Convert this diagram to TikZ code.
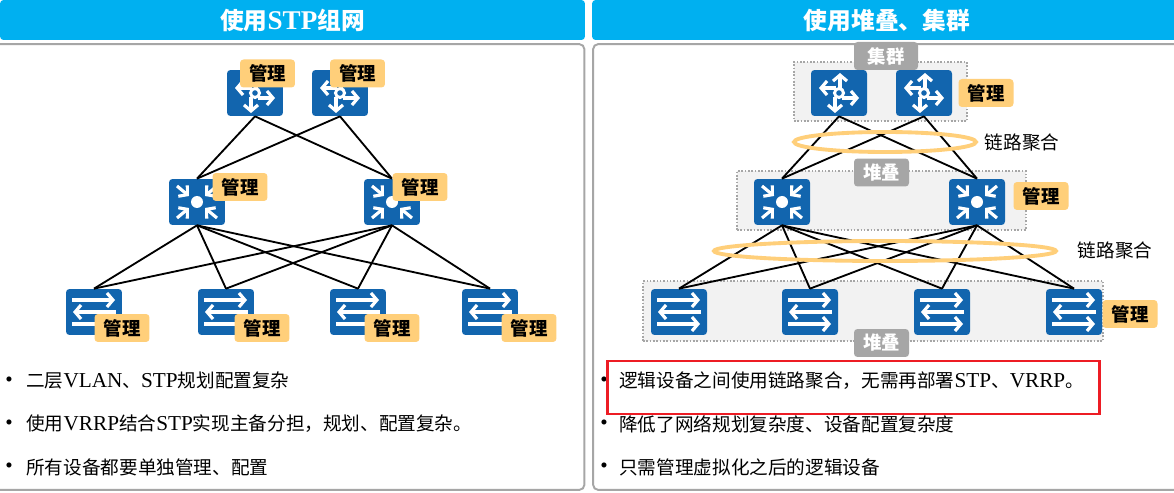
\documentclass[tikz,border=0pt]{standalone}
\usepackage{fontspec}
\setmainfont[Scale=1.14]{Liberation Serif}
\newfontfamily\cjk{Noto Sans CJK SC}
\usetikzlibrary{arrows.meta}
\definecolor{devblue}{HTML}{1265AE}
\definecolor{headblue}{HTML}{00B0F0}
\definecolor{badge}{HTML}{FFCF7A}
\definecolor{tagrey}{HTML}{A6A6A6}
\definecolor{groupgrey}{HTML}{F2F2F2}
\definecolor{markred}{HTML}{ED1C24}
\newcommand{\zh}[1]{{\cjk #1}}

\begin{document}
\begin{tikzpicture}[
  x=0.02cm, y=-0.02cm,
  head/.style={fill=headblue, rounded corners=2pt, minimum height=0.8cm, text=white, font=\fontsize{13.5}{15}\selectfont\bfseries, inner sep=0pt},
  panel/.style={draw=tagrey, line width=1.1pt, rounded corners=3pt, fill=white},
  dev/.style={fill=devblue, rounded corners=2pt, minimum width=1.12cm, minimum height=0.92cm, inner sep=0pt},
  mgmt/.style={fill=badge, rounded corners=2pt, minimum width=1.1cm, minimum height=0.56cm, inner sep=0pt, font=\fontsize{10.5}{12}\selectfont\bfseries},
  tag/.style={fill=tagrey, rounded corners=2pt, minimum width=1.1cm, minimum height=0.56cm, inner sep=0pt, text=white, font=\fontsize{10.5}{12}\selectfont\bfseries},
  group/.style={draw=tagrey, densely dotted, line width=0.9pt, fill=groupgrey, inner sep=0pt},
  link/.style={line width=1.05pt},
  lag/.style={draw=badge, line width=2.2pt},
  lab/.style={font=\fontsize{10.6}{12}\selectfont, inner sep=0pt},
  item/.style={font=\fontsize{10.6}{12}\selectfont, inner sep=0pt, anchor=west},
  dot/.style={font=\fontsize{10.6}{12}\selectfont, inner sep=0pt},
  glyph/.style={draw=white, line width=1.8pt, -{Straight Barb[length=3.4pt,width=8pt,line width=1.8pt]}},
  router/.pic={
    \draw[glyph] (1,-5) -- (1,-20);
    \draw[glyph] (-3,-5) -- (-20,-5);
    \draw[glyph] (3,5) -- (20,5);
    \draw[glyph] (-4,4) -- (-4,20);
    \draw[draw=white, line width=1.7pt, fill=devblue] (0,0) circle (4.5);
  },
  core/.pic={
    \fill[white] (0,0) circle (6);
    \draw[glyph] (-20,-16) -- (-8,-6);
    \draw[glyph] (20,-16) -- (8,-6);
    \draw[glyph] (-20,16) -- (-8,6);
    \draw[glyph] (20,16) -- (8,6);
  },
  access/.pic={
    \draw[glyph] (-22,-12) -- (21,-12);
    \draw[glyph] (22,0) -- (-21,0);
    \draw[glyph] (-22,12) -- (21,12);
  }
]
\useasboundingbox (0,0) rectangle (1174,493);

% headers
\node[head, minimum width=11.7cm] (headL) at (292.5,20) {\zh{使用}STP\zh{组网}};
\node[head, minimum width=11.8cm] (headR) at (887,20) {\zh{使用堆叠、集群}};

% panels
\node[panel, minimum width=11.82cm, minimum height=8.92cm] (panelL) at (289,267) {};
\node[panel, minimum width=11.72cm, minimum height=8.92cm] (panelR) at (886,267) {};

% groups on the right
\node[group, minimum width=3.46cm, minimum height=1.18cm] (clusterbox) at (880.5,91.5) {};
\node[group, minimum width=5.78cm, minimum height=1.18cm] (stackbox) at (881.5,200.5) {};
\node[group, minimum width=9.2cm, minimum height=1.2cm] (accessbox) at (873,311) {};

% left devices
\node[dev] (r1) at (255,93) {};
\node[dev] (r2) at (340,93) {};
\node[dev] (c1) at (197,202) {};
\node[dev] (c2) at (392,202) {};
\node[dev] (a1) at (94,312) {};
\node[dev] (a2) at (226,312) {};
\node[dev] (a3) at (358,312) {};
\node[dev] (a4) at (490,312) {};

% right devices
\node[dev] (rr1) at (839,93) {};
\node[dev] (rr2) at (924,93) {};
\node[dev] (rc1) at (782,202) {};
\node[dev] (rc2) at (977,202) {};
\node[dev] (ra1) at (679,312) {};
\node[dev] (ra2) at (810,312) {};
\node[dev] (ra3) at (942,312) {};
\node[dev] (ra4) at (1074,312) {};

\foreach \n in {r1,r2,rr1,rr2} \pic at (\n) {router};
\foreach \n in {c1,c2,rc1,rc2} \pic at (\n) {core};
\foreach \n in {a1,a2,a3,a4,ra1,ra2,ra3,ra4} \pic at (\n) {access};

% links
\foreach \u in {r1,r2} \foreach \v in {c1,c2} \draw[link] (\u.south) -- (\v.north);
\foreach \u in {c1,c2} \foreach \v in {a1,a2,a3,a4} \draw[link] (\u.south) -- (\v.north);
\foreach \u in {rr1,rr2} \foreach \v in {rc1,rc2} \draw[link] (\u.south) -- (\v.north);
\foreach \u in {rc1,rc2} \foreach \v in {ra1,ra2,ra3,ra4} \draw[link] (\u.south) -- (\v.north);

% link aggregation
\draw[lag] (885,142) ellipse (91 and 10);
\draw[lag] (885,251) ellipse (171 and 10);
\node[lab] (lagU) at (1022,142) {\zh{链路聚合}};
\node[lab] (lagD) at (1115,250) {\zh{链路聚合}};

% tags
\node[tag, minimum width=1.28cm] (tagC) at (886,56) {\zh{集群}};
\node[tag] (tagS) at (881.5,172.5) {\zh{堆叠}};
\node[tag] (tagA) at (881.5,343) {\zh{堆叠}};

% management badges
\node[mgmt] (m1) at (267.5,73.5) {\zh{管理}};
\node[mgmt] (m2) at (357.5,73.5) {\zh{管理}};
\node[mgmt] (m3) at (240,187) {\zh{管理}};
\node[mgmt] (m4) at (420,187) {\zh{管理}};
\node[mgmt] (m5) at (122,328) {\zh{管理}};
\node[mgmt] (m6) at (262,328) {\zh{管理}};
\node[mgmt] (m7) at (392,328) {\zh{管理}};
\node[mgmt] (m8) at (529,328) {\zh{管理}};
\node[mgmt] (m9) at (986,93) {\zh{管理}};
\node[mgmt] (m10) at (1041,196) {\zh{管理}};
\node[mgmt] (m11) at (1130,314) {\zh{管理}};

% lists
\node[dot] (d1) at (9,382) {•};
\node[dot] (d2) at (9,425) {•};
\node[dot] (d3) at (9,468) {•};
\node[item] (t1) at (26,381) {\zh{二层}VLAN\zh{、}STP\zh{规划配置复杂}};
\node[item] (t2) at (26,424) {\zh{使用}VRRP\zh{结合}STP\zh{实现主备分担，规划、配置复杂。}};
\node[item] (t3) at (26,467) {\zh{所有设备都要单独管理、配置}};
\node[dot] (d4) at (604,382) {•};
\node[dot] (d5) at (604,425) {•};
\node[dot] (d6) at (604,468) {•};
\node[item] (t4) at (619,381) {\zh{逻辑设备之间使用链路聚合，无需再部署}STP\zh{、}VRRP\zh{。}};
\node[item] (t5) at (619,424) {\zh{降低了网络规划复杂度、设备配置复杂度}};
\node[item] (t6) at (619,467) {\zh{只需管理虚拟化之后的逻辑设备}};

% highlight
\node[draw=markred, line width=1.7pt, minimum width=9.86cm, minimum height=1.06cm, inner sep=0pt] (mark) at (853.5,387.5) {};
\end{tikzpicture}
\end{document}
